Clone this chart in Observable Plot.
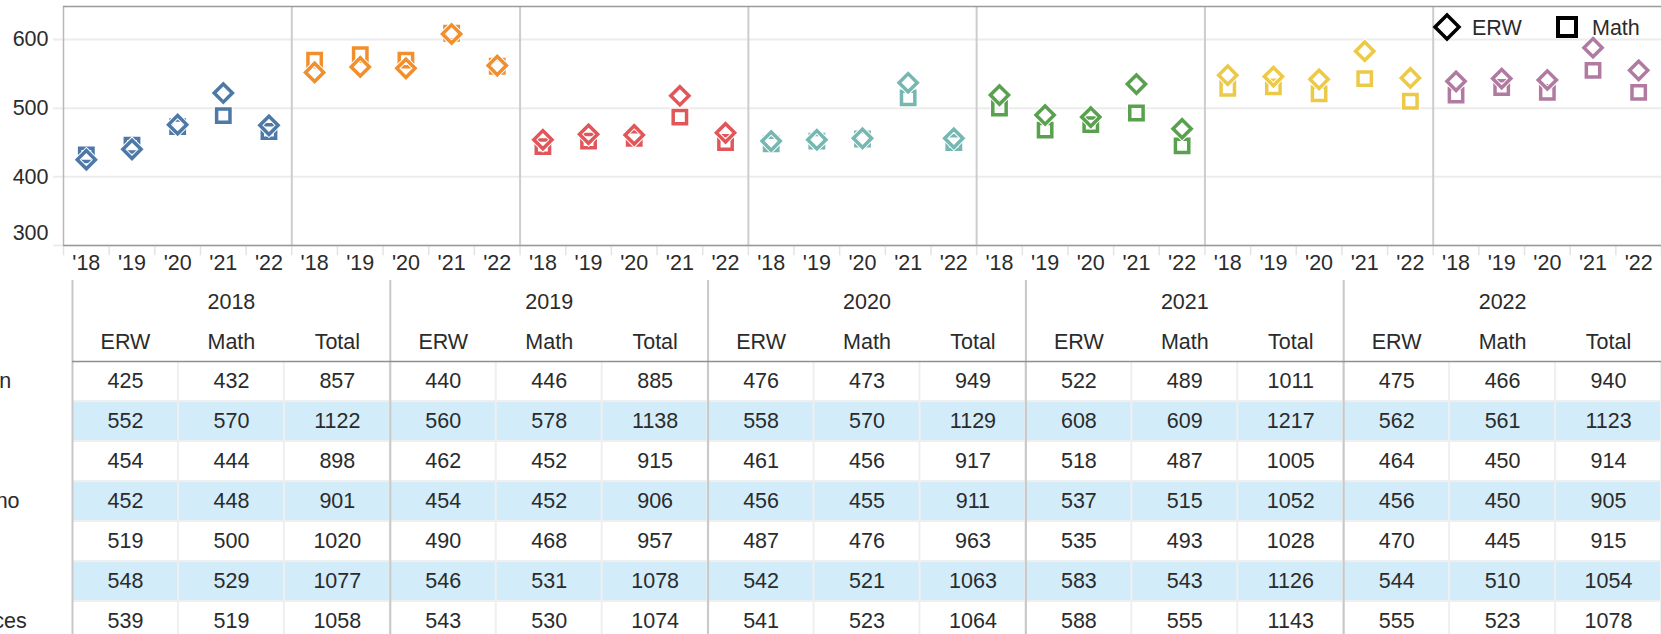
<!DOCTYPE html>
<html><head><meta charset="utf-8">
<script src="https://cdn.jsdelivr.net/npm/d3@7"></script>
<script src="https://cdn.jsdelivr.net/npm/@observablehq/plot@0.6"></script>
<style>
body{margin:0;background:#fff;font-family:"Liberation Sans",Arial,sans-serif;}
#wrap{position:relative;width:1661px;height:634px;overflow:hidden;}
#legend{position:absolute;left:1430px;top:8px;}
svg{display:block}
</style></head><body><div id="wrap"></div>
<script>
// ---- data ----
const groups = ["American Indian","Asian","Black","Hispanic or Latino","Other","White","Two or More Races"];
const yearLabels = ["2018","2019","2020","2021","2022"];
const yearTicks = ["'18","'19","'20","'21","'22"];
const measures = ["ERW","Math","Total"];
const erw = [
  [425,440,476,522,475],
  [552,560,558,608,562],
  [454,462,461,518,464],
  [452,454,456,537,456],
  [519,490,487,535,470],
  [548,546,542,583,544],
  [539,543,541,588,555]
];
const math = [
  [432,446,473,489,466],
  [570,578,570,609,561],
  [444,452,456,487,450],
  [448,452,455,515,450],
  [500,468,476,493,445],
  [529,531,521,543,510],
  [519,530,523,555,523]
];
const total = [
  [857,885,949,1011,940],
  [1122,1138,1129,1217,1123],
  [898,915,917,1005,914],
  [901,906,911,1052,905],
  [1020,957,963,1028,915],
  [1077,1078,1063,1126,1054],
  [1058,1074,1064,1143,1078]
];
const colors = ["#4e79a7","#f28e2b","#e15759","#76b7b2","#59a14f","#edc948","#b07aa1"];
const yTicks = [300,400,500,600];
const yDomain = [300,648];

// ---- derived tables ----
const nY = yearTicks.length;
const nPos = groups.length * nY;
const ptsERW = [], ptsMath = [];
groups.forEach((g, gi) => yearTicks.forEach((t, yi) => {
  ptsERW.push({g, pos: gi * nY + yi + 0.5, value: erw[gi][yi]});
  ptsMath.push({g, pos: gi * nY + yi + 0.5, value: math[gi][yi]});
}));
const tickPos = d3.range(nPos).map(i => ({pos: i + 0.5, label: yearTicks[i % nY]}));

const W = 1661, ML = 63;
const tickLen = 10 * nPos / (W - ML);
const font = {fontFamily: '"Liberation Sans", Arial, sans-serif', fontSize: "21.5px", color: "#2b2b2b", background: "none", overflow: "visible"};

const chart = Plot.plot({
  width: W, height: 276, marginLeft: ML, marginRight: 0, marginTop: 6, marginBottom: 31,
  x: {domain: [0, nPos], axis: null},
  y: {domain: yDomain, axis: null},
  color: {domain: groups, range: colors},
  style: font,
  marks: [
    Plot.ruleY(yTicks, {x1: -tickLen, x2: nPos, stroke: "#ececec", strokeWidth: 2}),
    Plot.ruleX(d3.range(1, groups.length), {x: i => i * nY, stroke: "#cdcdcd", strokeWidth: 2}),
    Plot.ruleX(d3.range(nPos + 1), {x: d => d, y1: yDomain[0], y2: yDomain[0] - 15, stroke: "#e4e4e4", strokeWidth: 1.5}),
    Plot.ruleX([0], {stroke: "#b8b8b8", strokeWidth: 1.5}),
    Plot.ruleY([yDomain[0]], {stroke: "#9a9a9a", strokeWidth: 1.5}),
    Plot.ruleY([yDomain[1]], {stroke: "#9a9a9a", strokeWidth: 1.5}),
    Plot.text(tickPos, {x: "pos", frameAnchor: "bottom", lineAnchor: "middle", dy: 18, text: "label"}),
    Plot.text(yTicks.filter(d => d > yDomain[0]), {y: d => d, frameAnchor: "left", dx: -15, textAnchor: "end", text: d => String(d)}),
    Plot.text(yTicks.filter(d => d === yDomain[0]), {y: d => d, frameAnchor: "left", dx: -15, dy: -12, textAnchor: "end", text: d => String(d)}),
    Plot.dot(ptsMath, {x: "pos", y: "value", symbol: "square2", r: 8.5, stroke: "white", strokeWidth: 5.5}),
    Plot.dot(ptsMath, {x: "pos", y: "value", symbol: "square2", r: 8.5, stroke: "g", strokeWidth: 3.5}),
    Plot.dot(ptsERW, {x: "pos", y: "value", symbol: "diamond2", r: 8.2, stroke: "white", strokeWidth: 5.5}),
    Plot.dot(ptsERW, {x: "pos", y: "value", symbol: "diamond2", r: 8.2, stroke: "g", strokeWidth: 3.5})
  ]
});

// ---- table ----
const nM = measures.length;
const nCols = yearLabels.length * nM;
const series = [erw, math, total];
const cells = [];
groups.forEach((g, ri) => yearLabels.forEach((yl, yi) => measures.forEach((m, mi) => {
  cells.push({row: ri, col: yi * nM + mi, value: series[mi][ri][yi], band: ri % 2 === 1});
})));
const headerCols = [];
yearLabels.forEach((yl, yi) => measures.forEach((m, mi) => headerCols.push({col: yi * nM + mi, m})));
const rowH = 40, headTop = 85;

const table = Plot.plot({
  width: W, height: 358, marginLeft: 72, marginRight: 0, marginTop: 4, marginBottom: 0,
  x: {domain: [0, nCols], axis: null},
  y: {domain: [0, groups.length], range: [headTop, headTop + rowH * groups.length], axis: null},
  style: {...font, overflow: "hidden"},
  marks: [
    Plot.rect([0], {x1: 0, x2: nCols, y1: 0, y2: groups.length, fill: "#efefef"}),
    Plot.rect(cells, {x1: d => d.col, x2: d => d.col + 1, y1: d => d.row, y2: d => d.row + 1,
      fill: d => d.band ? "#d3ecf9" : "#ffffff", inset: 1}),
    Plot.text(cells, {x: d => d.col + 0.5, y: d => d.row + 0.5, text: d => String(d.value)}),
    Plot.ruleX(d3.range(0, nCols, nM), {x: d => d, stroke: "#c8c8c8", strokeWidth: 2}),
    Plot.ruleY([0], {stroke: "#8f8f8f", strokeWidth: 1.5}),
    Plot.text(yearLabels, {x: (d, i) => i * nM + nM / 2, frameAnchor: "top", lineAnchor: "middle", dy: 22, text: d => d}),
    Plot.text(headerCols, {x: d => d.col + 0.5, frameAnchor: "top", lineAnchor: "middle", dy: 62, text: "m"}),
    Plot.text(groups, {y: (d, i) => i + 0.5, frameAnchor: "left", textAnchor: "middle", dx: -139, text: d => d})
  ]
});

const wrap = document.getElementById("wrap");
wrap.appendChild(chart);
wrap.appendChild(table);

// ---- legend (HTML overlay) ----
const legend = d3.select(wrap).append("svg").attr("id", "legend")
  .attr("width", 231).attr("height", 40)
  .style("font-family", '"Liberation Sans", Arial, sans-serif').style("font-size", "21.5px");
legend.append("path").attr("d", "M17,7 L29,19 L17,31 L5,19 Z")
  .attr("fill", "none").attr("stroke", "#000").attr("stroke-width", 3.5);
legend.append("text").attr("x", 42).attr("y", 19).attr("dy", "0.35em").attr("fill", "#2b2b2b").text(measures[0]);
legend.append("rect").attr("x", 128).attr("y", 10).attr("width", 18).attr("height", 18)
  .attr("fill", "none").attr("stroke", "#000").attr("stroke-width", 4);
legend.append("text").attr("x", 162).attr("y", 19).attr("dy", "0.35em").attr("fill", "#2b2b2b").text(measures[1]);
</script></body></html>
